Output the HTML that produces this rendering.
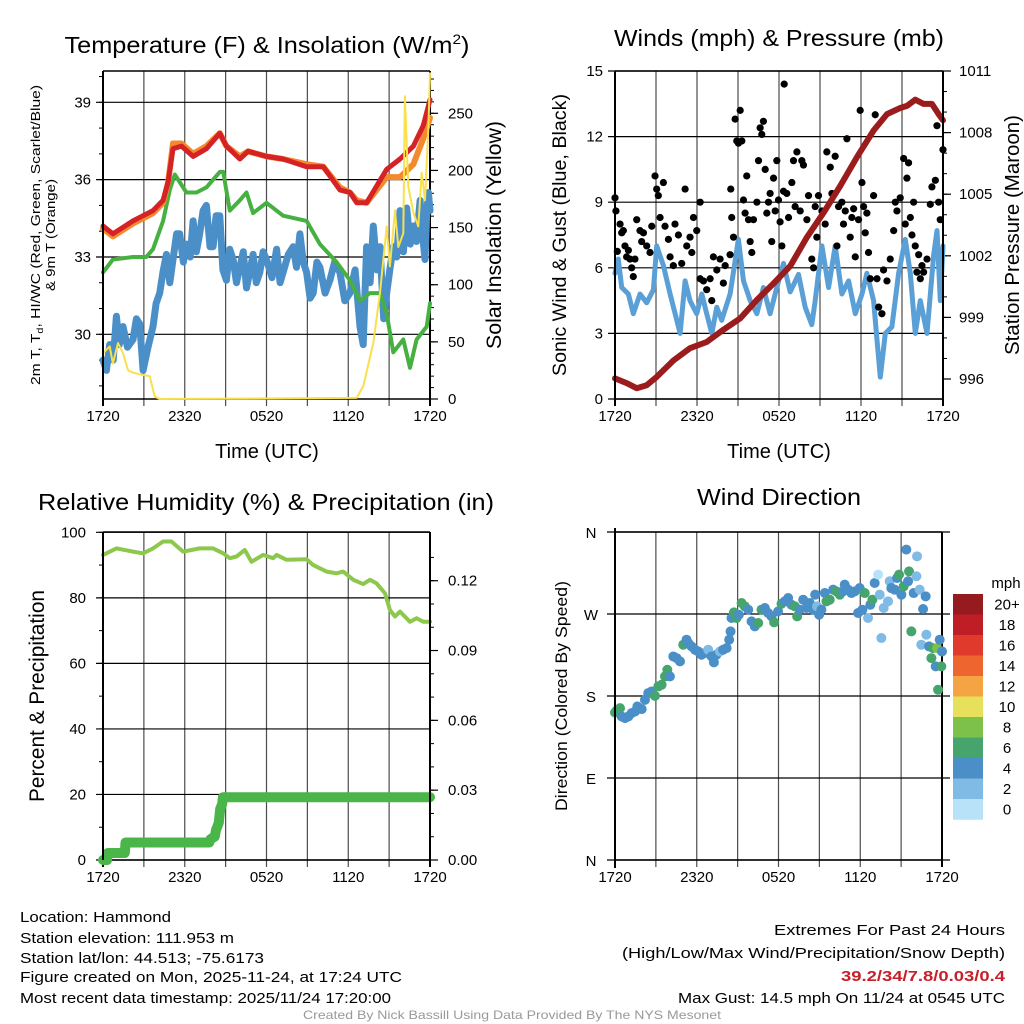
<!DOCTYPE html>
<html><head><meta charset="utf-8"><style>
html,body{margin:0;padding:0;background:#fff;}
svg{display:block;font-family:"Liberation Sans",sans-serif;}
</style></head><body>
<svg id="fig" width="1024" height="1024" viewBox="0 0 1024 1024" xmlns="http://www.w3.org/2000/svg">
<rect width="1024" height="1024" fill="#fff"/>
<g font-size="23" text-anchor="middle" fill="#000">
<text x="267" y="53" textLength="405" lengthAdjust="spacingAndGlyphs">Temperature (F) &amp; Insolation (W/m<tspan font-size="14" dy="-9">2</tspan><tspan dy="9">)</tspan></text>
<text x="779" y="46" textLength="330" lengthAdjust="spacingAndGlyphs">Winds (mph) &amp; Pressure (mb)</text>
<text x="266" y="510" textLength="456" lengthAdjust="spacingAndGlyphs">Relative Humidity (%) &amp; Precipitation (in)</text>
<text x="779" y="505" textLength="164" lengthAdjust="spacingAndGlyphs">Wind Direction</text>
</g>
<g id="p1"></g>
<g id="p2"></g>
<g id="p3"></g>
<g id="p4"></g>
<g font-size="15" fill="#000">
<text x="20" y="922" textLength="151" lengthAdjust="spacingAndGlyphs">Location: Hammond</text>
<text x="20" y="943" textLength="214" lengthAdjust="spacingAndGlyphs">Station elevation: 111.953 m</text>
<text x="20" y="963" textLength="244" lengthAdjust="spacingAndGlyphs">Station lat/lon: 44.513; -75.6173</text>
<text x="20" y="982" textLength="382" lengthAdjust="spacingAndGlyphs">Figure created on Mon, 2025-11-24, at 17:24 UTC</text>
<text x="20" y="1003" textLength="371" lengthAdjust="spacingAndGlyphs">Most recent data timestamp: 2025/11/24 17:20:00</text>
<text x="1005" y="935" text-anchor="end" textLength="231" lengthAdjust="spacingAndGlyphs">Extremes For Past 24 Hours</text>
<text x="1005" y="958" text-anchor="end" textLength="383" lengthAdjust="spacingAndGlyphs">(High/Low/Max Wind/Precipitation/Snow Depth)</text>
<text x="1005" y="981" text-anchor="end" textLength="164" lengthAdjust="spacingAndGlyphs" fill="#c8202a" font-weight="bold">39.2/34/7.8/0.03/0.4</text>
<text x="1005" y="1003" text-anchor="end" textLength="327" lengthAdjust="spacingAndGlyphs">Max Gust: 14.5 mph On 11/24 at 0545 UTC</text>
<text x="512" y="1019" text-anchor="middle" font-size="12" fill="#999" textLength="418" lengthAdjust="spacingAndGlyphs">Created By Nick Bassill Using Data Provided By The NYS Mesonet</text>
</g>
</svg>
<script>
// ---------- data (hours since 1720 UTC) ----------
const xTickLabels = ["1720","2320","0520","1120","1720"];
const tempLeftTicks = [30,33,36,39];
const insolTicks = [0,50,100,150,200,250];
const windTicks = [0,3,6,9,12,15];
const presTicks = [996,999,1002,1005,1008,1011];
const rhTicks = [0,20,40,60,80,100];
const precipTicks = [0,0.03,0.06,0.09,0.12];
const dirTickLabels = ["N","E","S","W","N"];
const speedBinLabels = ["0","2","4","6","8","10","12","14","16","18","20+"];

const redT = [0,0.73,2.2,2.94,3.67,4.41,4.78,5.14,5.76,6.61,7.59,8.57,9.06,10.04,10.65,11.99,13.22,14.94,16.17,17.39,18.13,18.62,19.35,20.82,21.8,22.78,23.51,24];
const redV = [34.2,33.9,34.4,34.6,34.8,35.2,35.9,37.2,37.3,36.9,37.2,37.8,37.3,36.8,37.1,36.9,36.8,36.5,36.5,35.6,35.5,35.1,35.1,36.4,36.8,37.3,38.1,39.1];
const orangeV = [34.1,33.8,34.3,34.5,34.7,35.1,35.9,37.4,37.4,37.0,37.3,37.8,37.3,36.9,37.1,36.9,36.8,36.6,36.5,35.7,35.5,35.2,35.1,36.1,36.1,36.6,37.6,38.4];
const greenT = [0,0.73,2.2,3.18,3.67,4.41,4.9,5.27,6.12,6.86,7.59,8.57,8.82,9.31,10.04,10.53,11.02,12.0,13.22,14.94,15.92,17.14,18.12,18.86,19.59,20.33,20.82,21.31,22.04,22.53,23.02,23.76,24];
const greenV = [32.4,32.9,33.0,33.0,33.3,34.4,35.6,36.2,35.5,35.5,35.7,36.3,36.3,34.8,35.2,35.5,34.7,35.1,34.6,34.4,33.5,32.8,32.1,31.3,31.6,31.6,30.8,29.3,29.8,28.7,29.8,30.3,31.2];
const blueT = [0,0.25,0.49,0.75,0.98,1.2,1.47,1.8,2.2,2.45,2.69,2.94,3.3,3.67,3.9,4.16,4.4,4.65,4.9,5.14,5.4,5.63,5.9,6.12,6.4,6.61,6.85,7.1,7.35,7.59,7.85,8.08,8.3,8.57,8.8,9.06,9.3,9.55,9.8,10.04,10.3,10.53,10.8,11.02,11.25,11.51,11.75,12.0,12.4,12.74,13.0,13.22,13.6,13.96,14.2,14.45,14.7,14.94,15.2,15.43,15.7,15.92,16.3,16.65,17.0,17.39,17.75,18.12,18.5,18.86,19.1,19.35,19.6,19.84,20.1,20.33,20.6,20.82,21.05,21.31,21.55,21.8,22.05,22.29,22.55,22.78,23.0,23.27,23.45,23.63,23.75,23.88,24];
const blueV = [29.0,28.6,29.6,29.0,30.7,29.6,30.3,29.5,29.8,30.6,30.4,28.6,29.5,30.3,31.2,31.6,32.4,33.1,32.0,32.9,33.9,33.9,32.8,33.5,33.0,34.4,33.2,33.9,34.8,35.0,33.4,33.4,34.6,34.6,32.5,32.1,33.3,32.9,32.0,32.6,33.2,31.8,32.5,33.1,32.0,32.4,33.2,32.9,32.2,33.3,32.0,32.4,33.1,33.4,32.6,33.9,32.8,32.4,31.4,31.6,32.8,32.6,31.6,32.1,32.8,32.4,31.3,31.6,32.5,30.3,29.6,33.4,32.0,34.2,32.5,33.4,30.6,31.6,32.5,33.4,33.0,34.8,33.2,34.9,33.5,34.2,33.6,35.2,33.9,32.9,34.6,35.5,34.8];
const solarT = [0,0.49,0.73,1.1,1.47,1.84,2.2,2.94,3.43,3.8,4.16,18.61,19.1,19.84,20.33,20.57,20.82,21.06,21.43,21.67,22.04,22.16,22.41,22.78,23.14,23.39,23.63,23.88,24];
const solarV = [40,46,31,49,40,25,23,21,20,2,0,1,11,49,93,122,151,116,165,133,145,265,186,163,151,198,174,238,285];

const presT = [0,0.85,1.59,2.32,3.05,4.27,5.49,6.71,7.93,9.16,10.38,11.6,12.82,14.04,15.26,16.48,17.7,18.92,19.9,20.87,21.36,21.97,22.58,23.19,23.68,24];
const presV = [996.03,995.8,995.55,995.7,996.1,996.9,997.5,997.8,998.4,998.95,999.85,1000.65,1001.5,1002.9,1004.1,1005.4,1006.8,1008.1,1008.9,1009.2,1009.3,1009.6,1009.4,1009.4,1008.9,1008.6];
const windT = [0,0.24,0.49,0.98,1.34,1.83,2.32,2.81,3.05,3.54,4.03,4.52,4.76,5.13,5.49,5.98,6.35,6.71,7.08,7.45,7.81,8.42,9.03,9.4,9.89,10.38,10.86,11.35,11.84,12.33,12.82,13.43,13.92,14.4,14.65,15.14,15.63,16.11,16.6,17.09,17.58,18.07,18.43,18.92,19.17,19.41,19.78,20.26,20.75,21.24,21.61,21.97,22.34,22.83,23.32,23.56,23.8,24];
const windV = [5.75,6.4,5.1,4.8,3.9,4.8,4.4,5.0,7.0,6.1,4.8,3.6,3.0,5.4,4.5,3.9,4.8,3.9,3.0,4.2,3.6,4.8,7.3,5.4,4.5,3.9,5.1,3.9,5.1,6.2,4.9,5.7,4.2,3.4,4.5,7.0,5.1,7.0,4.8,5.4,3.9,4.8,5.75,4.5,2.7,1.0,3.0,3.3,5.75,7.3,5.75,3.0,4.5,3.0,6.6,7.7,4.5,7.0];
const gustT = [0,0.07,0.17,0.37,0.49,0.61,0.73,0.85,0.98,1.1,1.22,1.34,1.46,1.59,1.83,1.95,2.08,2.32,2.56,2.69,2.93,3.05,3.17,3.3,3.54,3.66,3.91,4.03,4.27,4.39,4.64,4.88,5.13,5.25,5.49,5.62,5.74,5.98,6.23,6.23,6.47,6.71,6.96,7.08,7.2,7.45,7.69,7.93,8.06,8.42,8.47,8.54,8.67,8.79,8.91,9.03,9.16,9.28,9.4,9.52,9.64,9.77,9.89,10.01,10.13,10.38,10.5,10.62,10.74,10.86,10.99,11.11,11.23,11.35,11.47,11.6,11.72,11.84,11.96,12.08,12.21,12.33,12.38,12.57,12.7,12.94,13.06,13.18,13.31,13.55,13.67,13.79,14.04,14.16,14.4,14.53,14.65,14.77,14.89,15.14,15.38,15.5,15.75,15.87,16.11,16.24,16.36,16.6,16.72,16.85,16.97,17.21,17.33,17.46,17.58,17.82,17.94,18.07,18.19,18.31,18.43,18.55,18.68,18.92,19.04,19.17,19.29,19.53,19.65,19.9,20.14,20.39,20.51,20.63,20.87,21.12,21.24,21.36,21.48,21.61,21.73,21.85,21.97,22.09,22.22,22.34,22.46,22.58,22.83,23.07,23.19,23.44,23.56,23.68,23.8,24];
const gustV = [9.2,8.6,6.75,8.0,7.6,7.7,7.0,6.5,6.8,6.4,6.0,5.6,6.4,8.2,7.7,7.2,7.6,7.0,6.7,7.9,10.2,9.6,9.3,8.3,9.9,7.9,7.3,6.5,6.1,8.0,7.5,6.2,9.6,7.0,7.4,6.7,8.3,7.7,9.0,5.5,5.4,5.0,5.5,4.5,6.5,5.9,6.4,5.3,6.1,6.6,9.6,8.3,7.4,12.8,11.8,11.7,13.2,11.8,9.1,8.5,10.2,8.2,7.2,6.7,8.2,9.0,10.9,12.4,12.1,12.7,10.5,8.5,9.0,9.4,7.2,10.1,8.6,10.9,9.1,8.1,7.0,9.5,14.4,9.4,8.3,9.9,10.9,8.8,11.3,8.6,10.9,10.7,8.2,9.3,6.4,6.0,8.8,7.4,9.3,8.6,8.0,11.3,10.6,9.4,11.1,7.0,8.8,9.0,8.0,8.6,11.9,7.4,8.3,8.7,6.5,8.2,13.2,9.9,8.8,7.6,8.5,6.7,5.5,9.3,13.0,5.5,4.2,3.9,5.9,5.4,6.4,7.7,9.0,8.6,9.2,11.0,8.0,10.1,10.8,8.3,7.5,9.0,7.0,5.8,6.6,5.5,6.1,5.8,6.4,8.9,9.7,10.0,12.5,9.0,8.2,11.4];

const rhT = [0,0.98,2.2,2.94,3.67,4.41,5.02,5.88,7.1,8.08,8.82,9.31,9.8,10.41,10.9,11.76,12.49,12.74,13.47,14.94,15.43,16.41,17.14,17.63,18.37,19.1,19.59,20.08,20.7,21.06,21.43,21.8,22.53,23.02,23.51,24];
const rhV = [93.1,95.1,94.1,93.6,95.1,97.2,97.2,94.1,95.1,95.1,93.6,92.1,92.6,94.6,91.0,93.1,92.1,93.1,91.6,91.8,90.0,88.0,87.5,88.0,85.5,84.2,85.5,84.4,81.4,76.3,74.3,75.8,72.7,73.8,72.7,72.7];
const precipT = [0,0.3,0.35,1.6,1.65,7.8,7.9,8.2,8.3,8.5,8.6,8.75,8.8,24];
const precipV = [0,0,0.003,0.003,0.0075,0.0075,0.009,0.010,0.013,0.016,0.022,0.024,0.027,0.027];

const dirT = [0,0.12,0.37,0.49,0.73,0.98,1.22,1.47,1.64,1.96,2.2,2.44,2.69,2.93,3.18,3.42,3.67,3.84,4.03,4.28,4.52,4.77,5.01,5.25,5.38,5.62,5.87,6.11,6.35,6.6,6.84,7.09,7.26,7.45,7.7,7.94,8.19,8.38,8.48,8.55,8.73,8.92,9.09,9.29,9.53,9.78,10.02,10.26,10.51,10.75,11.0,11.24,11.49,11.68,11.97,12.22,12.46,12.71,12.95,13.2,13.37,13.56,13.81,14.05,14.3,14.54,14.69,14.83,14.98,15.15,15.4,15.52,15.76,16.01,16.25,16.5,16.74,16.86,17.11,17.35,17.6,17.84,17.96,18.16,18.33,18.57,18.74,18.89,19.06,19.31,19.43,19.55,19.72,20.04,20.16,20.28,20.53,20.7,20.85,21.02,21.19,21.38,21.51,21.58,21.75,21.92,22.12,22.17,22.36,22.48,22.61,22.8,22.85,23.05,23.22,23.34,23.54,23.64,23.71,23.83,23.95,24.0];
const dirD = [161.9,164.1,166.7,157.5,155.7,157.5,161.2,163,168.5,165.6,175.8,183.2,185,180.2,190.5,192.3,201.5,208.8,201.5,223.4,221.6,218,236.3,241.8,238.1,234.4,230.8,228.9,225.3,227.1,230.8,223.4,216.9,225.3,228.9,230.8,232.6,241.8,250.9,265.6,271.8,265.6,269.2,282.1,278.4,274.7,261.9,256.4,260.1,274.7,276.6,271.1,267.4,260.8,272.9,281.3,283.9,287.5,280.2,278.4,267.4,274.7,285.7,276.6,282.1,274.7,291.2,278.4,269.2,274.7,293,283.9,285.7,296.7,294.9,291.2,294.9,302.2,296.7,293,294.9,271.1,298.5,274.7,293,265.6,280.2,285.7,304,313.2,291.2,243.6,276.6,283.9,305.9,298.5,296.7,309.5,313.2,291.2,300.4,340.7,305.9,316.8,250.9,293,311.4,333.3,296.7,236.3,275.5,289.4,247.3,234.4,221.6,232.6,212.5,232.6,186.8,241.8,212.5,228.9];
const dirS = [6.5,6.5,6.5,5,5,5,5,5,5,5,5,5,5,6.5,6.5,6.5,6.5,6.5,5,5,5,5,6.5,5,5,5,5,5,5,5,3,5,5,5,3,5,5,5,5,5,6.5,6.5,5,6.5,6.5,5,5,5,6.5,6.5,5,5,5,6.5,5,6.5,5,5,5,6.5,6.5,5,5,5,5,5,5,3,5,5,5,6.5,6.5,5,6.5,6.5,5,5,5,5,5,5,5,5,6.5,3,5,6.5,5,1,3,3,3,3,3,5,5,5,6.5,5,6.5,5,5,6.5,6.5,5,3,3,3,3,5,5,3,5,6.5,6.5,5,8,6.5,5,6.5,5];
const binColors = ["#b8e2f7","#80bbe6","#4a8fc7","#46a56c","#7dc14a","#e6e05a","#f5a443","#ef6530","#e03a2c","#bf1e26","#951b1e"];

// ---------- helpers ----------
const NS = "http://www.w3.org/2000/svg";
function mk(parent, tag, attrs, name) {
  const el = document.createElementNS(NS, tag);
  for (const k in attrs) el.setAttribute(k, attrs[k]);
  
  
  parent.appendChild(el);
  return el;
}
function txt(parent, x, y, s, size, anchor, name, extra) {
  const el = mk(parent, 'text', Object.assign({x: x, y: y, 'font-size': size, 'text-anchor': anchor, fill: '#000'}, extra || {}), name);
  el.textContent = s;
  return el;
}
function linScale(d0, d1, r0, r1) { return v => r0 + (v - d0) / (d1 - d0) * (r1 - r0); }
function polyline(parent, T, V, xs, ys, color, w, name) {
  const pts = T.map((t, i) => xs(t).toFixed(1) + ',' + ys(V[i]).toFixed(1)).join(' ');
  return mk(parent, 'polyline', {points: pts, fill: 'none', stroke: color, 'stroke-width': w, 'stroke-linejoin': 'round', 'stroke-linecap': 'round'}, name);
}
function frame(g, X0, X1, Y0, Y1, xs) {
  for (let h = 0; h <= 24; h += 3) {
    const x = xs(h);
    mk(g, 'line', {x1: x, y1: Y0, x2: x, y2: Y1 + 7, stroke: '#000', 'stroke-width': h % 24 === 0 ? 2 : 1.2, 'stroke-opacity': h % 24 === 0 ? 1 : 0.7}, 'x-gridline');
  }
  xTickLabels.forEach((s, i) => txt(g, xs(i * 6), Y1 + 22, s, 15, 'middle', 'x-tick-label'));
  mk(g, 'line', {x1: X0, y1: Y0, x2: X1, y2: Y0, stroke: '#000', 'stroke-width': 1.5}, 'plot-top-border');
  mk(g, 'line', {x1: X0, y1: Y1, x2: X1, y2: Y1, stroke: '#000', 'stroke-width': 1.5}, 'plot-bottom-border');
}
function rotText(g, x, y, s, size, name, len) {
  const el = txt(g, x, y, s, size, 'middle', name, {transform: 'rotate(-90 ' + x + ' ' + y + ')'});
  if (len) { el.setAttribute('textLength', len); el.setAttribute('lengthAdjust', 'spacingAndGlyphs'); }
  return el;
}

// ---------- panel 1: temperature ----------
(function () {
  const g = document.getElementById('p1');
  const X0 = 103, X1 = 430, Y0 = 71, Y1 = 399;
  const xs = linScale(0, 24, X0, X1);
  const ys = linScale(30, 39, 334.3, 102.3);
  const ys2 = linScale(0, 250, 399, 113.3);
  frame(g, X0, X1, Y0, Y1, xs);
  for (let v = 28; v <= 40; v++) mk(g, 'line', {x1: X0 - 4, y1: ys(v), x2: X0, y2: ys(v), stroke: '#000', 'stroke-width': 1}, 'y-minor-tick');
  tempLeftTicks.forEach(v => {
    mk(g, 'line', {x1: X0 - 7, y1: ys(v), x2: X1, y2: ys(v), stroke: '#000', 'stroke-width': 1.2}, 'y-gridline');
    txt(g, X0 - 12, ys(v) + 5, String(v), 15, 'end', 'y-tick-label');
  });
  for (let v = 0; v <= 280; v += 10) mk(g, 'line', {x1: X1, y1: ys2(v), x2: X1 + 4, y2: ys2(v), stroke: '#000', 'stroke-width': 1}, 'y2-minor-tick');
  insolTicks.forEach(v => {
    mk(g, 'line', {x1: X1, y1: ys2(v), x2: X1 + 8, y2: ys2(v), stroke: '#000', 'stroke-width': 1.2}, 'y2-tick');
    txt(g, X1 + 18, ys2(v) + 5, String(v), 15, 'start', 'y2-tick-label');
  });
  polyline(g, blueT, blueV, xs, ys, '#4a8fc7', 7, 'windchill-line');
  polyline(g, greenT, greenV, xs, ys, '#46b040', 4, 'dewpoint-line');
  polyline(g, redT, orangeV, xs, ys, '#f48a2c', 6, 'temp-9m-line');
  polyline(g, redT, redV, xs, ys, '#d42226', 5, 'temp-2m-line');
  polyline(g, solarT, solarV, xs, ys2, '#f9e04c', 2, 'solar-insolation-line');
  mk(g, 'line', {x1: X0, y1: Y0, x2: X0, y2: Y1, stroke: '#000', 'stroke-width': 2}, 'left-axis');
  txt(g, 267, 458, 'Time (UTC)', 20, 'middle', 'x-axis-title');
  const t1 = rotText(g, 40, 235, '', 13, 'y-axis-title-line1', 300);
  t1.innerHTML = '2m T, T<tspan font-size="9" dy="3">d</tspan><tspan dy="-3">, HI/WC (Red, Green, Scarlet/Blue)</tspan>';
  rotText(g, 55, 235, '& 9m T (Orange)', 13, 'y-axis-title-line2', 112);
  rotText(g, 501, 235, 'Solar Insolation (Yellow)', 21, 'y2-axis-title', 228);
})();

// ---------- panel 2: winds ----------
(function () {
  const g = document.getElementById('p2');
  const X0 = 615, X1 = 943, Y0 = 71, Y1 = 399;
  const xs = linScale(0, 24, X0, X1);
  const ys = linScale(0, 15, 399, 71);
  const ys2 = linScale(996, 1011, 379, 71);
  frame(g, X0, X1, Y0, Y1, xs);
  windTicks.forEach(v => {
    mk(g, 'line', {x1: X0 - 7, y1: ys(v), x2: X1, y2: ys(v), stroke: '#000', 'stroke-width': 1.2}, 'y-gridline');
    txt(g, X0 - 12, ys(v) + 5, String(v), 15, 'end', 'y-tick-label');
  });
  for (let v = 996; v <= 1011; v++) mk(g, 'line', {x1: X1, y1: ys2(v), x2: X1 + 4, y2: ys2(v), stroke: '#000', 'stroke-width': 1}, 'y2-minor-tick');
  presTicks.forEach(v => {
    mk(g, 'line', {x1: X1, y1: ys2(v), x2: X1 + 8, y2: ys2(v), stroke: '#000', 'stroke-width': 1.2}, 'y2-tick');
    txt(g, X1 + 16, ys2(v) + 5, String(v), 15, 'start', 'y2-tick-label');
  });
  polyline(g, windT, windV, xs, ys, '#5a9fd6', 5, 'sonic-wind-line');
  gustT.forEach((t, i) => {
    mk(g, 'circle', {cx: xs(t), cy: ys(gustV[i]), r: 3.6, fill: '#000'}, 'gust-point');
  });
  polyline(g, presT, presV, xs, ys2, '#9b1c1c', 6, 'pressure-line');
  mk(g, 'line', {x1: X0, y1: Y0, x2: X0, y2: Y1, stroke: '#000', 'stroke-width': 2}, 'left-axis');
  mk(g, 'line', {x1: X1, y1: Y0, x2: X1, y2: Y1, stroke: '#000', 'stroke-width': 2}, 'right-axis');
  txt(g, 779, 458, 'Time (UTC)', 20, 'middle', 'x-axis-title');
  rotText(g, 566, 235, 'Sonic Wind & Gust (Blue, Black)', 19, 'y-axis-title', 282);
  rotText(g, 1019, 235, 'Station Pressure (Maroon)', 20, 'y2-axis-title', 240);
})();

// ---------- panel 3: RH & precip ----------
(function () {
  const g = document.getElementById('p3');
  const X0 = 103, X1 = 430, Y0 = 532, Y1 = 860;
  const xs = linScale(0, 24, X0, X1);
  const ys = linScale(0, 100, 860, 532.3);
  const ys2 = linScale(0, 0.12, 860, 580.7);
  frame(g, X0, X1, Y0, Y1, xs);
  for (let v = 0; v <= 100; v += 10) mk(g, 'line', {x1: X0 - 4, y1: ys(v), x2: X0, y2: ys(v), stroke: '#000', 'stroke-width': 1}, 'y-minor-tick');
  rhTicks.forEach(v => {
    mk(g, 'line', {x1: X0 - 7, y1: ys(v), x2: X1, y2: ys(v), stroke: '#000', 'stroke-width': 1.2}, 'y-gridline');
    txt(g, X0 - 17, ys(v) + 5, String(v), 15, 'end', 'y-tick-label');
  });
  for (let v = 0; v <= 0.135; v += 0.01) mk(g, 'line', {x1: X1, y1: ys2(v), x2: X1 + 4, y2: ys2(v), stroke: '#000', 'stroke-width': 1}, 'y2-minor-tick');
  precipTicks.forEach(v => {
    mk(g, 'line', {x1: X1, y1: ys2(v), x2: X1 + 8, y2: ys2(v), stroke: '#000', 'stroke-width': 1.2}, 'y2-tick');
    txt(g, X1 + 18, ys2(v) + 5, v.toFixed(2), 15, 'start', 'y2-tick-label');
  });
  polyline(g, rhT, rhV, xs, ys, '#8cc84b', 4, 'rh-line');
  polyline(g, precipT, precipV, xs, ys2, '#4ab548', 10, 'precip-line');
  mk(g, 'line', {x1: X0, y1: Y0, x2: X0, y2: Y1, stroke: '#000', 'stroke-width': 2}, 'left-axis');
  mk(g, 'line', {x1: X1, y1: Y0, x2: X1, y2: Y1, stroke: '#000', 'stroke-width': 2}, 'right-axis');
  rotText(g, 44, 696, 'Percent & Precipitation', 21, 'y-axis-title', 212);
})();

// ---------- panel 4: wind direction ----------
(function () {
  const g = document.getElementById('p4');
  const X0 = 615, X1 = 942, Y0 = 532, Y1 = 860;
  const xs = linScale(0, 24, X0, X1);
  const ys = linScale(0, 360, 860, 532);
  frame(g, X0, X1, Y0, Y1, xs);
  dirTickLabels.forEach((s, i) => {
    const v = i * 90;
    mk(g, 'line', {x1: X0 - 8, y1: ys(v), x2: X1 + 8, y2: ys(v), stroke: '#000', 'stroke-width': 1.2}, 'y-gridline');
    txt(g, 591, ys(v) + 6, s, 15, 'middle', 'y-tick-label');
  });
  dirT.forEach((t, i) => {
    const bin = Math.min(10, Math.floor(dirS[i] / 2));
    mk(g, 'circle', {cx: xs(t), cy: ys(dirD[i]), r: 5, fill: binColors[bin]}, 'direction-point');
  });
  mk(g, 'line', {x1: X0, y1: Y0 - 4, x2: X0, y2: Y1 + 8, stroke: '#000', 'stroke-width': 2}, 'left-axis');
  rotText(g, 567, 696, 'Direction (Colored By Speed)', 17, 'y-axis-title', 230);
  const cb = mk(g, 'g', {}, 'speed-colorbar');
  const top = 594, bh = 20.5;
  speedBinLabels.forEach((s, i) => {
    const k = 10 - i;
    mk(cb, 'rect', {x: 953, y: top + i * bh, width: 30, height: bh + 0.3, fill: binColors[k]}, 'colorbar-box');
    txt(cb, 1007, top + i * bh + bh / 2 + 5, speedBinLabels[k], 15, 'middle', 'colorbar-label');
  });
  txt(cb, 1006, 588, 'mph', 15, 'middle', 'colorbar-title');
})();
</script>
</body></html>
